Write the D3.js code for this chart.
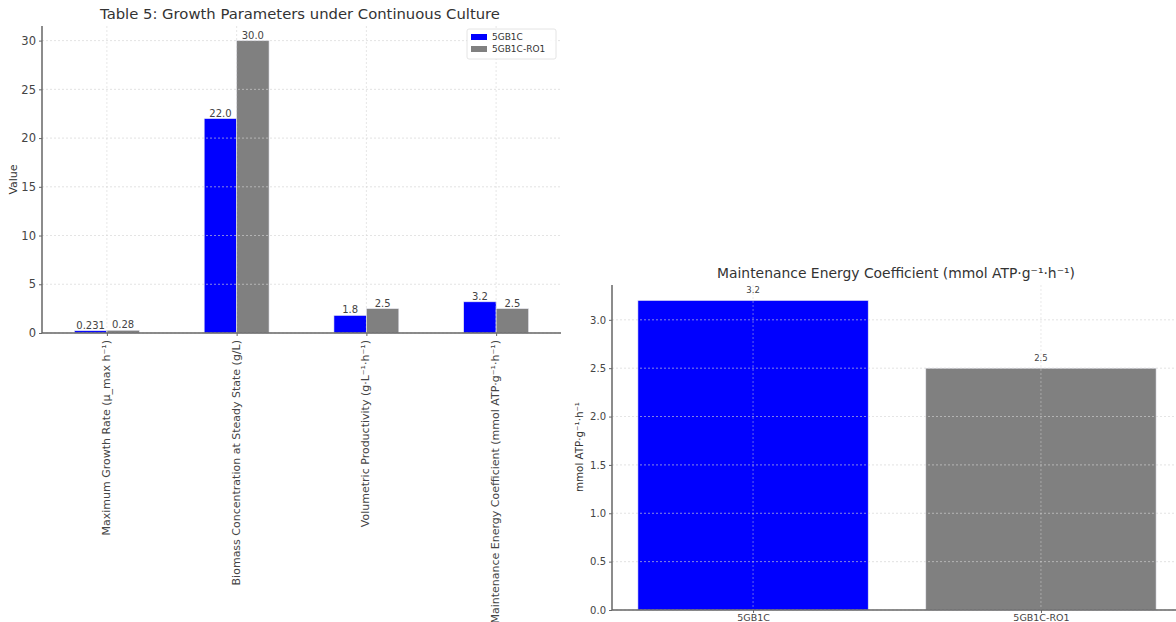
<!DOCTYPE html>
<html><head><meta charset="utf-8">
<script src="https://cdn.jsdelivr.net/npm/d3@7"></script>
<style>
body{margin:0;background:#fff;}
text{font-family:"DejaVu Sans",sans-serif;}
</style></head>
<body><svg id="c" width="1176" height="622"></svg>
<script>
const categories = ["Maximum Growth Rate (μ_max h⁻¹)","Biomass Concentration at Steady State (g/L)","Volumetric Productivity (g·L⁻¹·h⁻¹)","Maintenance Energy Coefficient (mmol ATP·g⁻¹·h⁻¹)"];
const strainNames = ["5GB1C","5GB1C-RO1"];
const valuesA = [0.231, 22.0, 1.8, 3.2];
const valuesB = [0.28, 30.0, 2.5, 2.5];
const valueLabelsA = ["0.231","22.0","1.8","3.2"];
const valueLabelsB = ["0.28","30.0","2.5","2.5"];
const leftTicks = [0,5,10,15,20,25,30];
const maintValues = [3.2, 2.5];
const maintLabels = ["3.2","2.5"];
const rightTicks = [0,0.5,1.0,1.5,2.0,2.5,3.0];
const colors = ["#0000ff","#808080"];

const svg = d3.select("#c");
const gridColor = "#d4d4d4";
const textColor = "#444";
const spineColor = "#666";

// ---------- Left chart ----------
const L = {l:42, r:561, t:26, b:333};
const xl = d3.scaleLinear().domain([-0.5, 3.5]).range([L.l, L.r]);
const yl = d3.scaleLinear().domain([0, 31.5]).range([L.b, L.t]);
const g1 = svg.append("g");
const bw = 0.25;
const series = [valuesA, valuesB];
const seriesLabels = [valueLabelsA, valueLabelsB];
series.forEach((vals, s) => {
  g1.selectAll(null).data(vals).enter().append("rect")
    .attr("x", (d,i) => xl(i - bw + s*bw))
    .attr("width", xl(bw) - xl(0))
    .attr("y", d => yl(d))
    .attr("height", d => yl(0) - yl(d))
    .attr("fill", colors[s])
    .attr("stroke", "#e8e8f0").attr("stroke-width", 0.6);
  g1.selectAll(null).data(vals).enter().append("text")
    .attr("x", (d,i) => xl(i - bw/2 + s*bw))
    .attr("y", d => yl(d) - 2)
    .attr("text-anchor", "middle")
    .attr("font-size", 10).attr("fill", textColor)
    .text((d,i) => seriesLabels[s][i]);
});
// grid (over bars)
g1.selectAll(null).data(leftTicks).enter().append("line")
  .attr("x1", L.l).attr("x2", L.r).attr("y1", d => yl(d)).attr("y2", d => yl(d))
  .attr("stroke", gridColor).attr("stroke-width", 0.8).attr("stroke-dasharray", "2,2").attr("opacity", 0.8);
g1.selectAll(null).data(categories).enter().append("line")
  .attr("x1", (d,i) => xl(i)).attr("x2", (d,i) => xl(i)).attr("y1", L.t).attr("y2", L.b)
  .attr("stroke", gridColor).attr("stroke-width", 0.8).attr("stroke-dasharray", "2,2").attr("opacity", 0.7);
// axes
const yAxisL = d3.axisLeft(yl).tickValues(leftTicks).tickSize(3).tickFormat(d3.format("d"));
const ga = g1.append("g").attr("transform", `translate(${L.l},0)`).call(yAxisL);
ga.select(".domain").remove();
ga.selectAll("text").attr("font-size", 11.5).attr("fill", textColor).attr("font-family", "DejaVu Sans");
ga.selectAll("line").attr("stroke", spineColor);
const xAxisL = d3.axisBottom(xl).tickValues([0,1,2,3]).tickSize(3).tickFormat(i => categories[i]);
const gx = g1.append("g").attr("transform", `translate(0,${L.b})`).call(xAxisL);
gx.select(".domain").remove();
gx.selectAll("line").attr("stroke", spineColor);
gx.selectAll("text").attr("font-size", 11).attr("fill", textColor).attr("font-family", "DejaVu Sans")
  .attr("text-anchor", "end").attr("dy", null).attr("y", 0)
  .attr("transform", "translate(-1,7) rotate(-90)").attr("dominant-baseline", "central");
g1.append("line").attr("x1", L.l).attr("x2", L.l).attr("y1", L.t).attr("y2", L.b).attr("stroke", spineColor).attr("stroke-width", 1.5);
g1.append("line").attr("x1", L.l).attr("x2", L.r).attr("y1", L.b).attr("y2", L.b).attr("stroke", spineColor).attr("stroke-width", 1.5);
g1.append("text").attr("x", 300).attr("y", 19).attr("text-anchor", "middle")
  .attr("font-size", 14.8).attr("fill", "#333").text("Table 5: Growth Parameters under Continuous Culture");
g1.append("text").attr("transform", `translate(17,${(L.t+L.b)/2}) rotate(-90)`).attr("text-anchor", "middle")
  .attr("font-size", 11).attr("fill", "#333").text("Value");
// legend
const lg = g1.append("g").attr("transform", "translate(467,29)");
lg.append("rect").attr("width", 89).attr("height", 30).attr("rx", 2).attr("fill", "#fff").attr("fill-opacity", 0.85)
  .attr("stroke", "#ddd").attr("stroke-width", 0.8);
strainNames.forEach((n, i) => {
  lg.append("rect").attr("x", 4).attr("y", 5 + i*12).attr("width", 16).attr("height", 6).attr("fill", colors[i]);
  lg.append("text").attr("x", 25).attr("y", 11 + i*12).attr("font-size", 9).attr("fill", "#333").text(n);
});

// ---------- Right chart ----------
const R = {l:612, r:1182, t:285, b:610};
const xr = d3.scaleLinear().domain([-0.49, 1.49]).range([R.l, R.r]);
const yr = d3.scaleLinear().domain([0, 3.36]).range([R.b, R.t]);
const g2 = svg.append("g");
g2.selectAll(null).data(maintValues).enter().append("rect")
  .attr("x", (d,i) => xr(i - 0.4)).attr("width", xr(0.8) - xr(0))
  .attr("y", d => yr(d)).attr("height", d => yr(0) - yr(d))
  .attr("fill", (d,i) => colors[i]).attr("stroke", "#e8e8f0").attr("stroke-width", 0.6);
g2.selectAll(null).data(maintValues).enter().append("text")
  .attr("x", (d,i) => xr(i)).attr("y", d => yr(d) - 7)
  .attr("text-anchor", "middle").attr("font-size", 8.5).attr("fill", textColor)
  .text((d,i) => maintLabels[i]);
g2.selectAll(null).data(rightTicks).enter().append("line")
  .attr("x1", R.l).attr("x2", R.r).attr("y1", d => yr(d)).attr("y2", d => yr(d))
  .attr("stroke", gridColor).attr("stroke-width", 0.8).attr("stroke-dasharray", "2,2").attr("opacity", 0.8);
g2.selectAll(null).data(strainNames).enter().append("line")
  .attr("x1", (d,i) => xr(i)).attr("x2", (d,i) => xr(i)).attr("y1", R.t).attr("y2", R.b)
  .attr("stroke", gridColor).attr("stroke-width", 0.8).attr("stroke-dasharray", "2,2").attr("opacity", 0.6);
const yAxisR = d3.axisLeft(yr).tickValues(rightTicks).tickSize(3).tickFormat(d3.format(".1f"));
const gar = g2.append("g").attr("transform", `translate(${R.l},0)`).call(yAxisR);
gar.select(".domain").remove();
gar.selectAll("text").attr("font-size", 10).attr("fill", textColor).attr("font-family", "DejaVu Sans");
gar.selectAll("line").attr("stroke", spineColor);
const xAxisR = d3.axisBottom(xr).tickValues([0,1]).tickSize(3).tickFormat(i => strainNames[i]);
const gxr = g2.append("g").attr("transform", `translate(0,${R.b})`).call(xAxisR);
gxr.select(".domain").remove();
gxr.selectAll("line").attr("stroke", spineColor);
gxr.selectAll("text").attr("font-size", 9.5).attr("fill", textColor).attr("font-family", "DejaVu Sans").attr("y", 4);
g2.append("line").attr("x1", R.l).attr("x2", R.l).attr("y1", R.t).attr("y2", R.b).attr("stroke", spineColor).attr("stroke-width", 1.5);
g2.append("line").attr("x1", R.l).attr("x2", R.r).attr("y1", R.b).attr("y2", R.b).attr("stroke", spineColor).attr("stroke-width", 1.5);
g2.append("text").attr("x", 896).attr("y", 278).attr("text-anchor", "middle")
  .attr("font-size", 13.9).attr("fill", "#333").text("Maintenance Energy Coefficient (mmol ATP·g⁻¹·h⁻¹)");
g2.append("text").attr("transform", `translate(583,447) rotate(-90)`).attr("text-anchor", "middle")
  .attr("font-size", 10.3).attr("fill", "#333").text("mmol ATP·g⁻¹·h⁻¹");
</script></body></html>
